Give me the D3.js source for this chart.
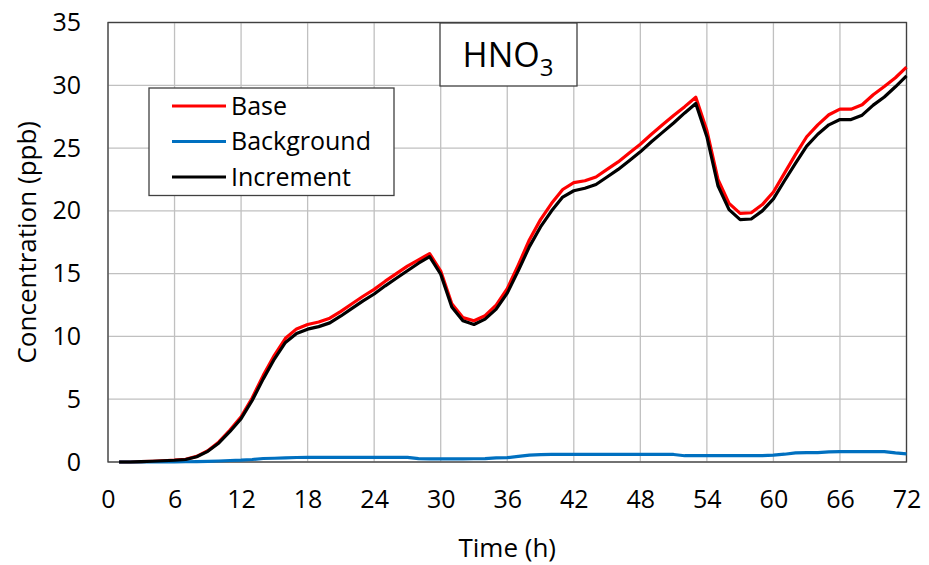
<!DOCTYPE html>
<html>
<head>
<meta charset="utf-8">
<script src="https://cdn.jsdelivr.net/npm/d3@7"></script>
<style>
  body { margin: 0; background: #fff; }
  text { font-family: "Open Sans", sans-serif; fill: #000; }
</style>
</head>
<body>
<div id="chart"></div>
<script>
// values, one per hour
const hours = [1,2,3,4,5,6,7,8,9,10,11,12,13,14,15,16,17,18,19,20,21,22,23,24,
  25,26,27,28,29,30,31,32,33,34,35,36,37,38,39,40,41,42,43,44,45,46,47,48,
  49,50,51,52,53,54,55,56,57,58,59,60,61,62,63,64,65,66,67,68,69,70,71,72]

const base = [0,0,0.03,0.06,0.1,0.15,0.22,0.45,0.9,1.6,2.55,3.6,5.1,6.9,8.5,9.85,10.6,10.95,11.15,11.45,
  12.0,12.6,13.2,13.75,14.4,15.0,15.6,16.1,16.6,15.2,12.6,11.5,11.25,11.65,12.5,13.8,15.7,17.7,19.3,20.6,
  21.7,22.25,22.4,22.7,23.3,23.9,24.6,25.3,26.1,26.85,27.6,28.3,29.05,26.4,22.5,20.6,19.8,19.85,20.5,21.5,
  23.0,24.5,25.9,26.85,27.65,28.1,28.1,28.45,29.25,29.9,30.6,31.45]

const background = [0,0,0,0,0,0.01,0.02,0.03,0.05,0.08,0.12,0.15,0.2,0.28,0.3,0.33,0.36,0.37,0.37,0.37,
  0.37,0.37,0.37,0.37,0.37,0.37,0.37,0.27,0.25,0.25,0.25,0.25,0.26,0.27,0.33,0.35,0.45,0.55,0.58,0.6,
  0.6,0.6,0.6,0.6,0.6,0.6,0.6,0.6,0.6,0.6,0.6,0.5,0.5,0.5,0.5,0.5,0.5,0.5,0.5,0.55,
  0.62,0.72,0.75,0.75,0.8,0.83,0.83,0.83,0.83,0.83,0.72,0.65]

const increment = [0,0,0.03,0.06,0.1,0.14,0.2,0.42,0.85,1.52,2.43,3.45,4.9,6.62,8.2,9.52,10.24,10.58,10.78,11.08,
  11.63,12.23,12.83,13.38,14.03,14.63,15.23,15.83,16.35,14.95,12.35,11.25,10.95,11.38,12.17,13.45,15.25,17.15,18.72,20.0,
  21.1,21.6,21.8,22.1,22.7,23.3,24.0,24.7,25.5,26.25,27.0,27.8,28.55,25.9,22.0,20.1,19.3,19.35,20.0,20.95,
  22.4,23.8,25.15,26.1,26.85,27.27,27.27,27.62,28.42,29.07,29.88,30.75]

const seriesNames = ["Base", "Background", "Increment"]
const seriesColors = ["#ff0000", "#0070c0", "#000000"]
const xTicks = [0,6,12,18,24,30,36,42,48,54,60,66,72]
const yTicks = [0,5,10,15,20,25,30,35]

const width = 929, height = 565
const margin = {top: 22.5, right: 22.5, bottom: 103, left: 108}
const innerW = width - margin.left - margin.right
const innerH = height - margin.top - margin.bottom

const svg = d3.select("#chart").append("svg")
  .attr("width", width)
  .attr("height", height)

const x = d3.scaleLinear().domain([0, 72]).range([margin.left, margin.left + innerW])
const y = d3.scaleLinear().domain([0, 35]).range([margin.top + innerH, margin.top])

// gridlines
svg.append("g")
  .selectAll("line.vg")
  .data(xTicks)
  .join("line")
    .attr("x1", d => x(d)).attr("x2", d => x(d))
    .attr("y1", y(0)).attr("y2", y(35))
    .attr("stroke", "#c0c0c0").attr("stroke-width", 1.3)

svg.append("g")
  .selectAll("line.hg")
  .data(yTicks)
  .join("line")
    .attr("x1", x(0)).attr("x2", x(72))
    .attr("y1", d => y(d)).attr("y2", d => y(d))
    .attr("stroke", "#c0c0c0").attr("stroke-width", 1.3)

// axes
const xAxis = svg.append("g")
  .attr("transform", `translate(0,${y(0)})`)
  .call(d3.axisBottom(x).tickValues(xTicks).tickSize(0).tickPadding(28))
xAxis.select(".domain").remove()
xAxis.selectAll("text").style("font-size", "25px").attr("fill", "#000")

const yAxis = svg.append("g")
  .attr("transform", `translate(${x(0)},0)`)
  .call(d3.axisLeft(y).tickValues(yTicks).tickSize(0).tickPadding(27))
yAxis.select(".domain").remove()
yAxis.selectAll("text").style("font-size", "25px").attr("fill", "#000")

// plot frame
svg.append("rect")
  .attr("x", x(0)).attr("y", y(35))
  .attr("width", x(72) - x(0)).attr("height", y(0) - y(35))
  .attr("fill", "none").attr("stroke", "#404040").attr("stroke-width", 1.3)

// axis titles
svg.append("text")
  .attr("x", (x(0) + x(72)) / 2)
  .attr("y", 557)
  .attr("text-anchor", "middle")
  .style("font-size", "26px")
  .text("Time (h)")

svg.append("text")
  .attr("transform", `translate(36,${(y(0) + y(35)) / 2}) rotate(-90)`)
  .attr("text-anchor", "middle")
  .style("font-size", "26px")
  .text("Concentration (ppb)")

// lines
const allSeries = [base, background, increment]
const line = d3.line()
  .x((d, i) => x(hours[i]))
  .y(d => y(d))

svg.append("g")
  .selectAll("path")
  .data(allSeries)
  .join("path")
    .attr("d", line)
    .attr("fill", "none")
    .attr("stroke", (d, i) => seriesColors[i])
    .attr("stroke-width", 3.2)
    .attr("stroke-linejoin", "round")

// legend
const legend = svg.append("g").attr("transform", "translate(149,88)")
legend.append("rect")
  .attr("width", 245).attr("height", 107.5)
  .attr("fill", "#fff").attr("stroke", "#404040").attr("stroke-width", 1.3)

const rows = legend.selectAll("g.row")
  .data(seriesNames)
  .join("g")
    .attr("transform", (d, i) => `translate(0,${18 + i * 35.5})`)
rows.append("line")
  .attr("x1", 23).attr("x2", 77)
  .attr("stroke", (d, i) => seriesColors[i])
  .attr("stroke-width", 3.2)
rows.append("text")
  .attr("x", 82).attr("dy", "0.35em")
  .style("font-size", "25px")
  .text(d => d)

// title box
const title = svg.append("g").attr("transform", "translate(440,23)")
title.append("rect")
  .attr("width", 137).attr("height", 63)
  .attr("fill", "#fff").attr("stroke", "#404040").attr("stroke-width", 1.3)
const tt = title.append("text")
  .attr("x", 68).attr("y", 44)
  .attr("text-anchor", "middle")
  .style("font-size", "34px")
tt.append("tspan").text("HNO")
tt.append("tspan").attr("dy", 9).style("font-size", "24px").text("3")
</script>
</body>
</html>
